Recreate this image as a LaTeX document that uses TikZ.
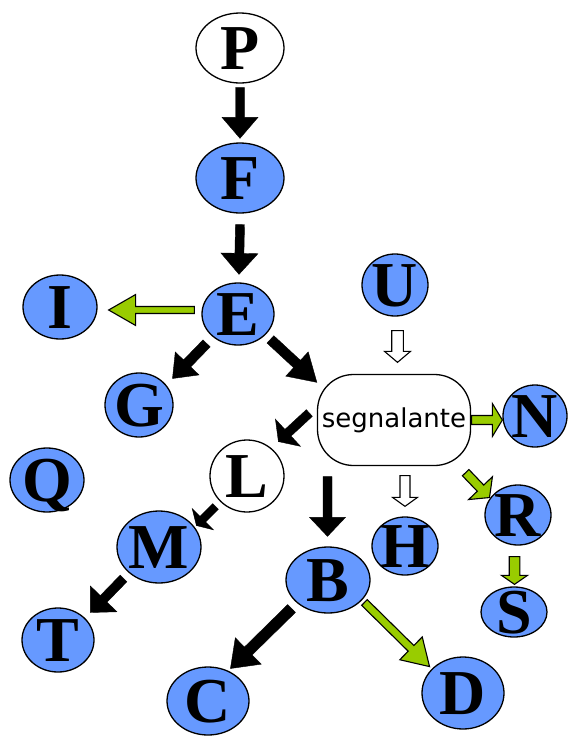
\documentclass[tikz,border=0pt]{standalone}
\usepackage{fontspec}
\setmainfont{Liberation Serif}
\newfontfamily\segfont{DejaVu Sans}
\usetikzlibrary{shapes.geometric,calc}
\definecolor{nodeblue}{HTML}{6699FF}
\definecolor{arrgreen}{HTML}{99CC00}
% block arrow: style, start, tip, half shaft width, half head width, head length
\newcommand\blockarr[6]{%
  \path #2 coordinate (ba-s) #3 coordinate (ba-t);
  \path ($(ba-t)!#6!(ba-s)$) coordinate (ba-m);
  \draw[#1] ($(ba-s)!#4!90:(ba-t)$) -- ($(ba-m)!#4!90:(ba-t)$) -- ($(ba-m)!#5!90:(ba-t)$) -- (ba-t)
    -- ($(ba-m)!#5!-90:(ba-t)$) -- ($(ba-m)!#4!-90:(ba-t)$) -- ($(ba-s)!#4!-90:(ba-t)$) -- cycle;
}
\tikzset{
  lett/.style={font=\fontsize{64}{64}\selectfont\bfseries, text height=42pt, text depth=0pt, inner sep=0pt},
  ell/.style={ellipse, draw=black, line width=1.3pt, inner sep=0pt},
  bnode/.style={ell, fill=nodeblue},
  wnode/.style={ell, fill=white},
  segbox/.style={draw=black, line width=1.3pt, fill=white, rounded corners=36pt,
    minimum width=153pt, minimum height=91pt, inner sep=0pt, font=\segfont\fontsize{26}{26}\selectfont},
  blackarr/.style={fill=black, draw=black, line width=0.4pt},
  greenarr/.style={fill=arrgreen, draw=black, line width=1.1pt},
  whitearr/.style={fill=white, draw=black, line width=1.1pt},
}
\newcommand\lnode[6]{% style, name, x, y, w, h ; letter = name
  \node[#1, minimum width=#5pt, minimum height=#6pt, label={[lett]center:#2}] (#2) at (#3,#4) {};
}
\begin{document}
\begin{tikzpicture}[x=1pt, y=-1pt]
\useasboundingbox (0,0) rectangle (568,736);
\lnode{wnode}{P}{240}{48}{88}{70}
\lnode{bnode}{F}{240}{178}{88}{70}
\lnode{bnode}{E}{238}{314}{72}{62}
\lnode{bnode}{I}{60}{307}{74}{64}
\lnode{bnode}{G}{139}{405}{68}{64}
\lnode{bnode}{U}{395}{285}{66}{62}
\node[segbox] (seg) at (394,420) {segnalante};
\lnode{bnode}{N}{535}{416}{64}{62}
\lnode{bnode}{R}{518}{515}{66}{60}
\lnode{bnode}{S}{514}{612}{66}{50}
\lnode{bnode}{H}{405}{546}{66}{58}
\lnode{bnode}{B}{328}{580}{84}{66}
\lnode{wnode}{L}{247}{476}{74}{72}
\lnode{bnode}{M}{159}{547}{84}{72}
\lnode{bnode}{T}{58}{640}{72}{64}
\lnode{bnode}{Q}{47}{480}{74}{64}
\lnode{bnode}{C}{208}{701}{82}{68}
\lnode{bnode}{D}{463}{693}{82}{72}
% arrows
\blockarr{blackarr}{($(P.south)+(0,4)$)}{($(F.north)+(0,-4)$)}{4.5pt}{18pt}{21pt}
\blockarr{blackarr}{($(F.south)+(0,11)$)}{($(E.north)+(1,-8)$)}{4.5pt}{18.5pt}{21pt}
\blockarr{greenarr}{($(E.west)+(-7,-4)$)}{($(I.east)+(11,3)$)}{3.5pt}{15.5pt}{27pt}
\blockarr{blackarr}{($(E.south west)+(-5.5,7)$)}{($(G.north east)+(9,-3.4)$)}{5pt}{16.5pt}{21pt}
\blockarr{blackarr}{($(E.south east)+(6.5,3)$)}{($(seg.north west)+(0,8.5)$)}{5pt}{16.5pt}{27pt}
\blockarr{whitearr}{($(U.south)+(2.5,14)$)}{($(seg.north)+(3.5,-11.5)$)}{5.8pt}{13pt}{11pt}
\blockarr{greenarr}{($(seg.east)+(0.5,0)$)}{($(N.west)+(0,4)$)}{4.5pt}{16.5pt}{10pt}
\blockarr{greenarr}{($(seg.south east)+(-5.5,6.5)$)}{($(R.north west)+(-4.7,4.2)$)}{4.5pt}{16.5pt}{13pt}
\blockarr{whitearr}{($(seg.south)+(11,9.5)$)}{($(H.north)+(0,-10)$)}{5pt}{12.5pt}{9pt}
\blockarr{blackarr}{($(seg.south)+(-66.5,10.5)$)}{($(B.north)+(-0.5,-10)$)}{4.5pt}{18pt}{19pt}
\blockarr{blackarr}{($(seg.west)+(-7.5,-7)$)}{($(L.north east)+(4.8,-8.5)$)}{4.5pt}{18.5pt}{13pt}
\blockarr{blackarr}{($(L.south west)+(-4.8,4.5)$)}{($(M.north east)+(7.3,4.5)$)}{4pt}{15pt}{9pt}
\blockarr{blackarr}{($(M.south west)+(-5.3,5.5)$)}{($(T.north east)+(6.5,-4.4)$)}{4.7pt}{18.5pt}{19pt}
\blockarr{blackarr}{($(B.south west)+(-6.3,4.7)$)}{($(C.north east)+(-7,-8)$)}{5.5pt}{18.5pt}{25pt}
\blockarr{greenarr}{($(B.south east)+(6.3,-1.3)$)}{($(D.north west)+(-4,-0.5)$)}{4pt}{16pt}{26pt}
\blockarr{greenarr}{($(R.south)+(-3.5,11)$)}{($(S.north)+(0.5,-2)$)}{5.3pt}{13pt}{9pt}
\end{tikzpicture}
\end{document}
